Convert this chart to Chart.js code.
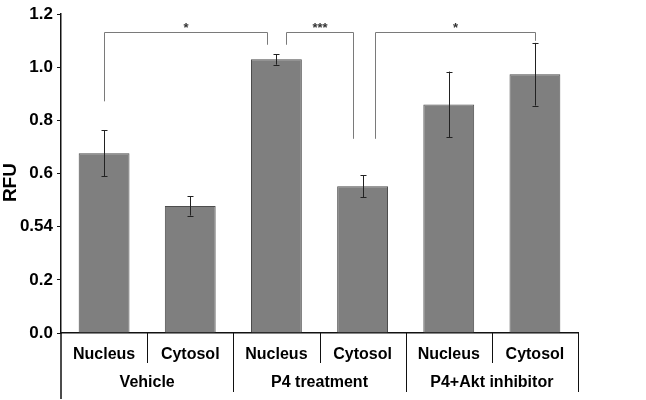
<!DOCTYPE html>
<html>
<head>
<meta charset="utf-8">
<script src="https://cdn.jsdelivr.net/npm/chart.js@4/dist/chart.umd.min.js"></script>
<style>
  html, body { margin: 0; padding: 0; background: #fff; }
  #wrap { width: 646px; height: 400px; position: relative; }
</style>
</head>
<body>
<div id="wrap"><canvas id="chart"></canvas></div>
<script>
// Data
const categories = ['Nucleus', 'Cytosol', 'Nucleus', 'Cytosol', 'Nucleus', 'Cytosol'];
const groups = ['Vehicle', 'P4 treatment', 'P4+Akt inhibitor'];
const rfuMeans = [0.677, 0.478, 1.030, 0.552, 0.860, 0.974];
const rfuErrors = [0.086, 0.036, 0.020, 0.041, 0.124, 0.118];
const yTickLabels = ['0.0', '0.2', '0.54', '0.6', '0.8', '1.0', '1.2'];
const yTitle = 'RFU';

// Significance brackets (x in category units, y in RFU)
const sigLabels = ['*', '***', '*'];
const sigFrom = [0, 2.11, 3.14];
const sigTo = [1.89, 2.89, 5];
const sigLeftEnd = [0.872, 1.085, 0.731];
const sigRightEnd = [1.085, 0.731, 1.10];
const sigTop = [1.133, 1.133, 1.133];

const FONT = '"Liberation Sans", Arial, sans-serif';

// error bars
const errorBars = {
    id: 'errorBars',
    afterDatasetsDraw(chart) {
        const ctx = chart.ctx;
        const y = chart.scales.y;
        const meta = chart.getDatasetMeta(0);
        ctx.save();
        ctx.strokeStyle = '#222';
        ctx.lineWidth = 1;
        meta.data.forEach((bar, i) => {
            const top = y.getPixelForValue(rfuMeans[i] + rfuErrors[i]);
            const bot = y.getPixelForValue(rfuMeans[i] - rfuErrors[i]);
            const x = Math.round(bar.x) + 0.5;
            ctx.beginPath();
            ctx.moveTo(x, top); ctx.lineTo(x, bot);
            ctx.moveTo(x - 3, Math.round(top) + 0.5); ctx.lineTo(x + 3, Math.round(top) + 0.5);
            ctx.moveTo(x - 3, Math.round(bot) + 0.5); ctx.lineTo(x + 3, Math.round(bot) + 0.5);
            ctx.stroke();
        });
        ctx.restore();
    }
};

// brackets, stars, group labels, divider lines, axis title
const decorations = {
    id: 'decorations',
    afterDraw(chart) {
        const ctx = chart.ctx;
        const xs = chart.scales.x;
        const ys = chart.scales.y;
        const area = chart.chartArea;
        const step = xs.getPixelForValue(1) - xs.getPixelForValue(0);
        const xAt = (v) => xs.getPixelForValue(0) + v * step;

        ctx.save();
        // significance brackets
        ctx.strokeStyle = '#7a7a7a';
        ctx.lineWidth = 1;
        sigLabels.forEach((lab, i) => {
            const x1 = Math.round(xAt(sigFrom[i])) + 0.5;
            const x2 = Math.round(xAt(sigTo[i])) + 0.5;
            const yt = Math.round(ys.getPixelForValue(sigTop[i])) + 0.5;
            ctx.beginPath();
            ctx.moveTo(x1, ys.getPixelForValue(sigLeftEnd[i]));
            ctx.lineTo(x1, yt);
            ctx.lineTo(x2, yt);
            ctx.lineTo(x2, ys.getPixelForValue(sigRightEnd[i]));
            ctx.stroke();
            ctx.fillStyle = '#333';
            ctx.font = 'bold 13px ' + FONT;
            ctx.textAlign = 'center';
            ctx.textBaseline = 'alphabetic';
            ctx.fillText(lab, (x1 + x2) / 2, yt - 1);
        });

        // category dividers below the axis
        const base = Math.round(area.bottom);
        ctx.strokeStyle = '#111';
        ctx.lineWidth = 1;
        for (let b = 1; b <= categories.length; b++) {
            const x = Math.round(xAt(b - 0.5)) + 0.5;
            const len = (b % 2 === 0) ? 59 : 30;
            ctx.beginPath();
            ctx.moveTo(x, base);
            ctx.lineTo(x, base + len);
            ctx.stroke();
        }
        // y axis continues down through the label rows
        ctx.lineWidth = 1.5;
        ctx.beginPath();
        ctx.moveTo(area.left, base);
        ctx.lineTo(area.left, 399);
        ctx.stroke();

        // group labels
        ctx.fillStyle = '#000';
        ctx.font = 'bold 16px ' + FONT;
        ctx.textAlign = 'center';
        ctx.textBaseline = 'middle';
        groups.forEach((g, i) => {
            ctx.fillText(g, xAt(i * 2 + 0.5), base + 50);
        });

        // y axis title, a bit below the middle as in the figure
        ctx.translate(11, (area.top + area.bottom) / 2 + 9);
        ctx.rotate(-Math.PI / 2);
        ctx.font = 'bold 19px ' + FONT;
        ctx.fillText(yTitle, 0, 0);
        ctx.restore();
    }
};

const ctx = document.getElementById('chart').getContext('2d');
new Chart(ctx, {
    type: 'bar',
    data: {
        labels: categories,
        datasets: [{
            data: rfuMeans,
            backgroundColor: '#7f7f7f',
            borderColor: '#4d4d4d',
            borderWidth: 1,
            barPercentage: 0.59,
            categoryPercentage: 1.0
        }]
    },
    options: {
        responsive: true,
        maintainAspectRatio: false,
        animation: false,
        layout: { padding: { top: 12, right: 68, bottom: 0, left: 0 } },
        plugins: {
            legend: { display: false },
            tooltip: { enabled: false }
        },
        scales: {
            x: {
                grid: { display: false, drawTicks: false },
                border: { display: true, color: '#111', width: 1.5 },
                ticks: {
                    color: '#000',
                    font: { family: FONT, size: 16, weight: 'bold' },
                    padding: 12,
                    maxRotation: 0
                },
                afterFit: (scale) => { scale.height = 67; }
            },
            y: {
                min: 0,
                max: 1.2,
                grid: { drawOnChartArea: false, tickLength: 4, color: '#111' },
                border: { display: true, color: '#111', width: 1.5 },
                ticks: {
                    stepSize: 0.2,
                    color: '#000',
                    padding: 4,
                    font: { family: FONT, size: 17, weight: 'bold' },
                    callback: (value, index) => yTickLabels[index]
                },
                afterFit: (scale) => { scale.width = 61; }
            }
        }
    },
    plugins: [errorBars, decorations]
});
</script>
</body>
</html>
